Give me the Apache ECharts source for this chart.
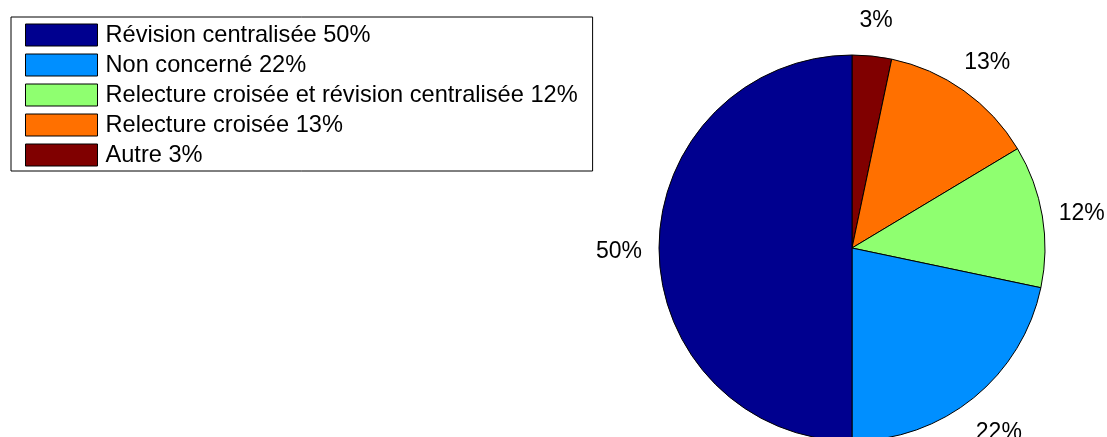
<!DOCTYPE html>
<html>
<head>
<meta charset="utf-8">
<script src="https://cdn.jsdelivr.net/npm/echarts@6/dist/echarts.min.js"></script>
<style>
html,body{margin:0;padding:0;background:#fff;}
#chart{width:1107px;height:437px;}
</style>
</head>
<body>
<div id="chart"></div>
<script>
// Slices, clockwise from 12 o'clock
var categories = ['Autre 3%', 'Relecture croisée 13%', 'Relecture croisée et révision centralisée 12%', 'Non concerné 22%', 'Révision centralisée 50%'];
var values = [3.3, 13.1, 11.9, 21.7, 50.0];
var sliceLabels = ['3%', '13%', '12%', '22%', '50%'];
var colors = ['#800000', '#FF7000', '#8FFF70', '#008FFF', '#00008F'];
var legendOrder = ['Révision centralisée 50%', 'Non concerné 22%', 'Relecture croisée et révision centralisée 12%', 'Relecture croisée 13%', 'Autre 3%'];

var font = 'Liberation Sans, Arial, Helvetica, sans-serif';
var mainData = categories.map(function (n, i) {
  return { name: n, value: values[i], itemStyle: { color: colors[i] } };
});
var labelData = categories.map(function (n, i) {
  return { name: n, value: values[i] };
});

var chart = echarts.init(document.getElementById('chart'), null, { renderer: 'canvas' });
chart.setOption({
  animation: false,
  backgroundColor: '#fff',
  legend: {
    orient: 'vertical',
    left: 11,
    top: 17,
    data: legendOrder,
    icon: 'rect',
    itemWidth: 72,
    itemHeight: 22,
    itemGap: 6,
    padding: [6, 15, 4, 14],
    borderColor: '#000',
    borderWidth: 1,
    borderRadius: 0,
    selectedMode: false,
    itemStyle: { borderColor: '#000', borderWidth: 1 },
    textStyle: { fontFamily: font, fontSize: 23.6, color: '#000', lineHeight: 20, padding: [4, 0, 0, 3] }
  },
  series: [
    {
      type: 'pie',
      center: [852, 248],
      radius: [0, 193],
      startAngle: 90,
      clockwise: true,
      avoidLabelOverlap: false,
      label: { show: false },
      labelLine: { show: false },
      emphasis: { disabled: true },
      itemStyle: { borderColor: '#000', borderWidth: 1 },
      data: mainData
    },
    {
      type: 'pie',
      center: [852, 248],
      radius: [215, 245],
      startAngle: 90,
      clockwise: true,
      silent: true,
      avoidLabelOverlap: false,
      itemStyle: { color: 'rgba(0,0,0,0)', borderWidth: 0 },
      emphasis: { disabled: true },
      label: {
        show: true,
        position: 'inside',
        fontFamily: font,
        fontSize: 23,
        color: '#000',
        offset: [0, 4],
        formatter: function (p) { return sliceLabels[p.dataIndex]; }
      },
      labelLine: { show: false },
      data: labelData
    }
  ]
});
</script>
</body>
</html>
